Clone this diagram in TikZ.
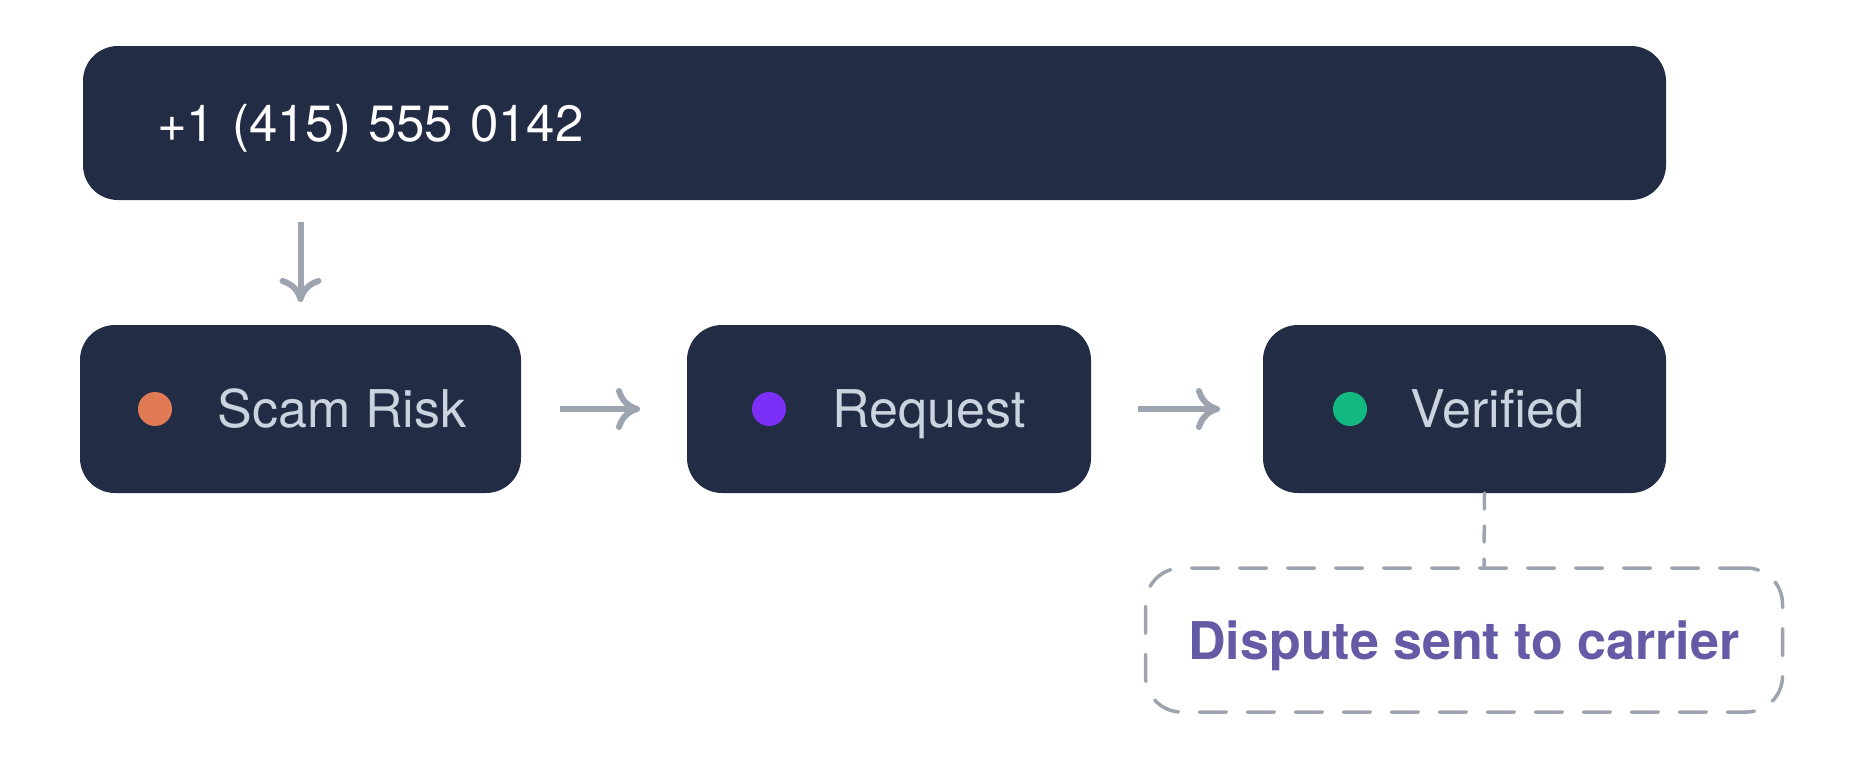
\documentclass[tikz,border=0pt]{standalone}
\usepackage{fontspec}
\setmainfont{TeX Gyre Heros}
\usetikzlibrary{arrows.meta}
\definecolor{navy}{HTML}{222C44}
\definecolor{edgegray}{HTML}{9EA3B0}
\definecolor{labelgray}{HTML}{CBD3DF}
\definecolor{riskorange}{HTML}{E07B55}
\definecolor{reqpurple}{HTML}{7B2FF7}
\definecolor{okgreen}{HTML}{12B981}
\definecolor{notepurple}{HTML}{655AA6}

\begin{document}
\begin{tikzpicture}[x=1pt,y=-1pt,line width=3.5pt]
\tikzstyle box=[fill=navy,rounded corners=35pt,inner sep=0pt,outer sep=0pt]
\tikzstyle stage=[box,minimum height=168pt]
\tikzstyle dot=[circle,inner sep=0pt,minimum size=34pt]
\tikzstyle big=[font=\fontsize{52}{60}\selectfont]
\tikzstyle stagetext=[big,anchor=base west,inner sep=0pt,text=labelgray]
\tikzstyle flow=[draw=edgegray,line width=6pt,
  -{Computer Modern Rightarrow[length=24pt,width=42pt,line cap=round]}]
\useasboundingbox (0,0) rectangle (1864,758);
 \node[box,font=\fontsize{51}{60}\selectfont,minimum width=1583pt,minimum height=154pt,
   text width=1435pt,inner xsep=74pt,align=left,text height=37pt,text depth=0pt,text=white]
   (phone) at (874.5,123) {+1 (415) 555 0142};
 \node[stage,minimum width=441pt] (scam) at (300.5,409) {};
 \node[stage,minimum width=404pt] (request) at (889,409) {};
 \node[stage,minimum width=403pt] (verified) at (1464.5,409) {};
 \node[dot,fill=riskorange] (scamdot) at (155,409) {};
 \node[dot,fill=reqpurple] (requestdot) at (769,409) {};
 \node[dot,fill=okgreen] (verifieddot) at (1350,409) {};
 \node[stagetext] (scamtext) at (216,427) {Scam Risk};
 \node[stagetext] (requesttext) at (831,427) {Request};
 \node[stagetext] (verifiedtext) at (1409,427) {Verified};
 \node[draw=edgegray,line width=3.5pt,line cap=round,dash pattern=on 27pt off 21pt,
   rounded corners=36pt,minimum width=637pt,minimum height=144pt,inner sep=0pt,
   big,text=notepurple,text height=38pt,text depth=0pt]
   (dispute) at (1464,640) {\bfseries Dispute sent to carrier};
 \draw[flow,shorten <=22pt,shorten >=23pt] (scam.north |- phone.south) -- (scam.north);
 \draw[flow,shorten <=39pt,shorten >=47pt] (scam) -- (request);
 \draw[flow,shorten <=47pt,shorten >=43pt] (request) -- (verified);
 \draw[edgegray,line width=3.5pt,line cap=round,dash pattern=on 16pt off 17pt]
   ([xshift=20pt]verified.south) -- ([xshift=20pt]dispute.north);
\end{tikzpicture}
\end{document}
